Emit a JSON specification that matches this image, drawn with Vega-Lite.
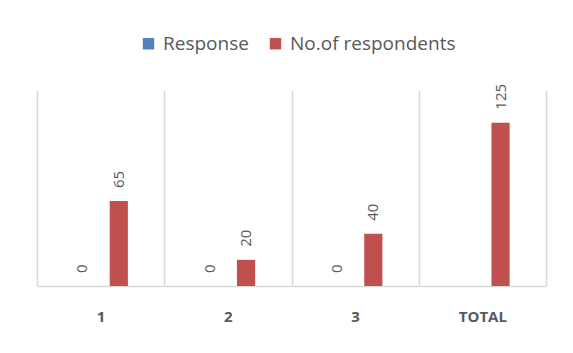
{
  "$schema": "https://vega.github.io/schema/vega-lite/v6.json",
  "width": 509,
  "height": 196,
  "autosize": {"type": "none"},
  "padding": {"left": 37, "top": 90, "right": 27, "bottom": 67},
  "background": "white",
  "config": {"view": {"stroke": null}, "font": "Open Sans"},
  "data": {
    "values": [
      {"category": "1", "series": "Response", "value": 0},
      {"category": "1", "series": "No.of respondents", "value": 65},
      {"category": "2", "series": "Response", "value": 0},
      {"category": "2", "series": "No.of respondents", "value": 20},
      {"category": "3", "series": "Response", "value": 0},
      {"category": "3", "series": "No.of respondents", "value": 40},
      {"category": "TOTAL", "series": "No.of respondents", "value": 125}
    ]
  },
  "encoding": {
    "x": {
      "field": "category",
      "type": "nominal",
      "sort": ["1", "2", "3", "TOTAL"],
      "scale": {"paddingInner": 0, "paddingOuter": 0},
      "axis": {
        "title": null,
        "labelAngle": 0,
        "tickBand": "extent",
        "grid": true,
        "gridColor": "#d9d9d9",
        "gridWidth": 1.5,
        "domainColor": "#d9d9d9",
        "domainWidth": 1.5,
        "ticks": false,
        "labelPadding": 23,
        "labelFont": "Open Sans",
        "labelFontSize": 15,
        "labelFontWeight": "bold",
        "labelColor": "#595959"
      }
    },
    "xOffset": {
      "field": "series",
      "type": "nominal",
      "sort": ["Response", "No.of respondents"],
      "scale": {"paddingInner": 0.5, "paddingOuter": 1.12}
    },
    "y": {
      "field": "value",
      "type": "quantitative",
      "scale": {"domain": [0, 150]},
      "axis": null
    }
  },
  "layer": [
    {
      "mark": {"type": "bar"},
      "encoding": {
        "color": {
          "field": "series",
          "type": "nominal",
          "sort": ["Response", "No.of respondents"],
          "scale": {"domain": ["Response", "No.of respondents"], "range": ["#4f81bd", "#c0504d"]},
          "legend": {
            "title": null,
            "orient": "none",
            "direction": "horizontal",
            "legendX": 102,
            "legendY": -56,
            "symbolType": "square",
            "symbolSize": 130,
            "symbolStrokeWidth": 0,
            "labelFont": "Open Sans",
            "labelFontSize": 19,
            "labelLimit": 300,
            "labelColor": "#595959",
            "labelOffset": 5,
            "columnPadding": 17
          }
        }
      }
    },
    {
      "mark": {
        "type": "text",
        "angle": -90,
        "align": "left",
        "baseline": "middle",
        "dx": 13,
        "font": "Open Sans",
        "fontSize": 15,
        "color": "#595959"
      },
      "encoding": {"text": {"field": "value", "type": "quantitative"}}
    }
  ]
}
